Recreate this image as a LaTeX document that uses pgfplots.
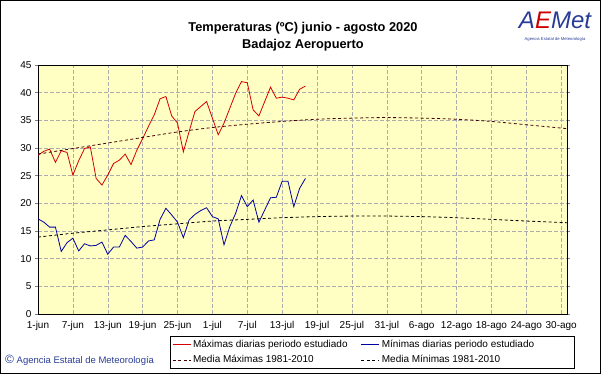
\documentclass[border=0pt]{standalone}
\usepackage{pgfplots}
\pgfplotsset{compat=1.18}
\usepackage{fontspec}
\setmainfont{Liberation Sans}
\definecolor{bgy}{RGB}{255,255,196}
\definecolor{maxred}{RGB}{214,0,0}
\definecolor{minblue}{RGB}{0,0,160}
\definecolor{meanmax}{RGB}{70,0,0}
\definecolor{aemetblue}{RGB}{40,60,150}
\begin{document}
\begin{tikzpicture}[x=1bp,y=1bp]
\draw[line width=1bp] (0.5,0.5) rectangle (600.5,373.5);
\node[font=\bfseries\fontsize{12.8bp}{14bp}\selectfont] at (303,346) {Temperaturas (ºC) junio - agosto 2020};
\node[font=\bfseries\fontsize{12.8bp}{14bp}\selectfont] at (303,329) {Badajoz Aeropuerto};
\node[font=\itshape\fontsize{24bp}{24bp}\selectfont, inner sep=0] at (555,354) {\textcolor{aemetblue}{A}\textcolor{red!80!black}{E}\textcolor{aemetblue}{Met}};
\node[font=\fontsize{4.2bp}{5bp}\selectfont, text=aemetblue, inner sep=0] at (555,335) {Agencia Estatal de Meteorología};
\node[anchor=west, text=aemetblue, font=\fontsize{9.5bp}{11bp}\selectfont, inner sep=0] at (5,14) {{\fontsize{12bp}{12bp}\selectfont ©} Agencia Estatal de Meteorología};
\begin{axis}[
  at={(38bp,60bp)}, anchor=south west,
  scale only axis, width=529bp, height=249bp,
  xmin=0, xmax=91, ymin=0, ymax=45,
  xtick={0,6,...,90},
  xticklabels={1-jun,7-jun,13-jun,19-jun,25-jun,1-jul,7-jul,13-jul,19-jul,25-jul,31-jul,6-ago,12-ago,18-ago,24-ago,30-ago},
  ytick={0,5,...,45},
  grid=major,
  major grid style={gray!65, dash pattern=on 4bp off 2bp, line width=0.5bp},
  axis background/.style={fill=bgy},
  axis line style={line width=0.9bp},
  tick label style={font=\fontsize{10bp}{11bp}\selectfont},
  /pgf/number format/assume math mode=true,
  xtick style={draw=none},
  ytick style={line width=0.5bp},
  tick align=outside, major tick length=3bp,
  x tick label style={yshift=-0.5bp},
  y tick label style={xshift=0bp},
  legend columns=2,
  legend cell align=left,
  legend style={at={(0.2495,-0.088)}, anchor=north west, draw=black, line width=0.6bp,
    font=\fontsize{10bp}{11bp}\selectfont, inner sep=2bp, row sep=2.5bp,
    /tikz/every even column/.append style={column sep=6bp}},
  legend image code/.code={\draw[#1, line width=0.8bp] (0bp,0bp) -- (18bp,0bp);},
]
\addplot[maxred, line width=0.8bp] coordinates {
(0,28.7)(1,29.4)(2,29.8)(3,27.4)(4,29.5)(5,29.2)(6,25.1)(7,27.7)(8,29.9)(9,30.2)
(10,24.5)(11,23.3)(12,25.1)(13,27.2)(14,27.8)(15,28.9)(16,27.0)(17,29.6)(18,31.7)(19,33.9)
(20,36.0)(21,38.9)(22,39.3)(23,35.8)(24,34.5)(25,29.3)(26,33.0)(27,36.6)(28,37.5)(29,38.4)
(30,35.4)(31,32.4)(32,34.5)(33,37.2)(34,39.9)(35,42.0)(36,41.8)(37,36.9)(38,35.8)(39,38.4)
(40,41.0)(41,39.0)(42,39.2)(43,39.0)(44,38.7)(45,40.6)(46,41.2)};
\addlegendentry{\makebox[160bp][l]{Máximas diarias periodo estudiado}}
\addplot[minblue, line width=0.8bp] coordinates {
(0,17.2)(1,16.6)(2,15.7)(3,15.7)(4,11.3)(5,12.9)(6,13.7)(7,11.4)(8,12.7)(9,12.3)
(10,12.4)(11,13.0)(12,10.8)(13,12.1)(14,12.1)(15,14.2)(16,13.1)(17,11.9)(18,12.1)(19,13.2)
(20,13.4)(21,17.1)(22,19.1)(23,17.9)(24,16.6)(25,13.8)(26,17.0)(27,18.0)(28,18.7)(29,19.2)
(30,17.6)(31,17.2)(32,12.5)(33,15.8)(34,18.2)(35,21.4)(36,19.4)(37,20.6)(38,16.6)(39,18.8)
(40,21.0)(41,21.1)(42,24.0)(43,24.0)(44,19.4)(45,22.7)(46,24.5)};
\addlegendentry{\makebox[188bp][l]{Mínimas diarias periodo estudiado}}
\addplot[meanmax, line width=0.8bp, dash pattern=on 3bp off 2.5bp, smooth] coordinates {
(0,28.9)(6,29.9)(12,30.9)(18,31.9)(24,32.9)(30,33.7)(36,34.3)(42,34.8)(48,35.2)(54,35.4)
(60,35.5)(66,35.4)(72,35.2)(78,34.8)(84,34.2)(91,33.5)};
\addlegendentry{Media Máximas 1981-2010}
\addplot[black, line width=0.8bp, dash pattern=on 3bp off 2.5bp, smooth] coordinates {
(0,13.9)(6,14.6)(12,15.2)(18,15.8)(24,16.3)(30,16.8)(36,17.1)(42,17.4)(48,17.6)(54,17.7)
(60,17.7)(66,17.6)(72,17.4)(78,17.1)(84,16.8)(91,16.5)};
\addlegendentry{Media Mínimas 1981-2010}
\end{axis}
\end{tikzpicture}
\end{document}
